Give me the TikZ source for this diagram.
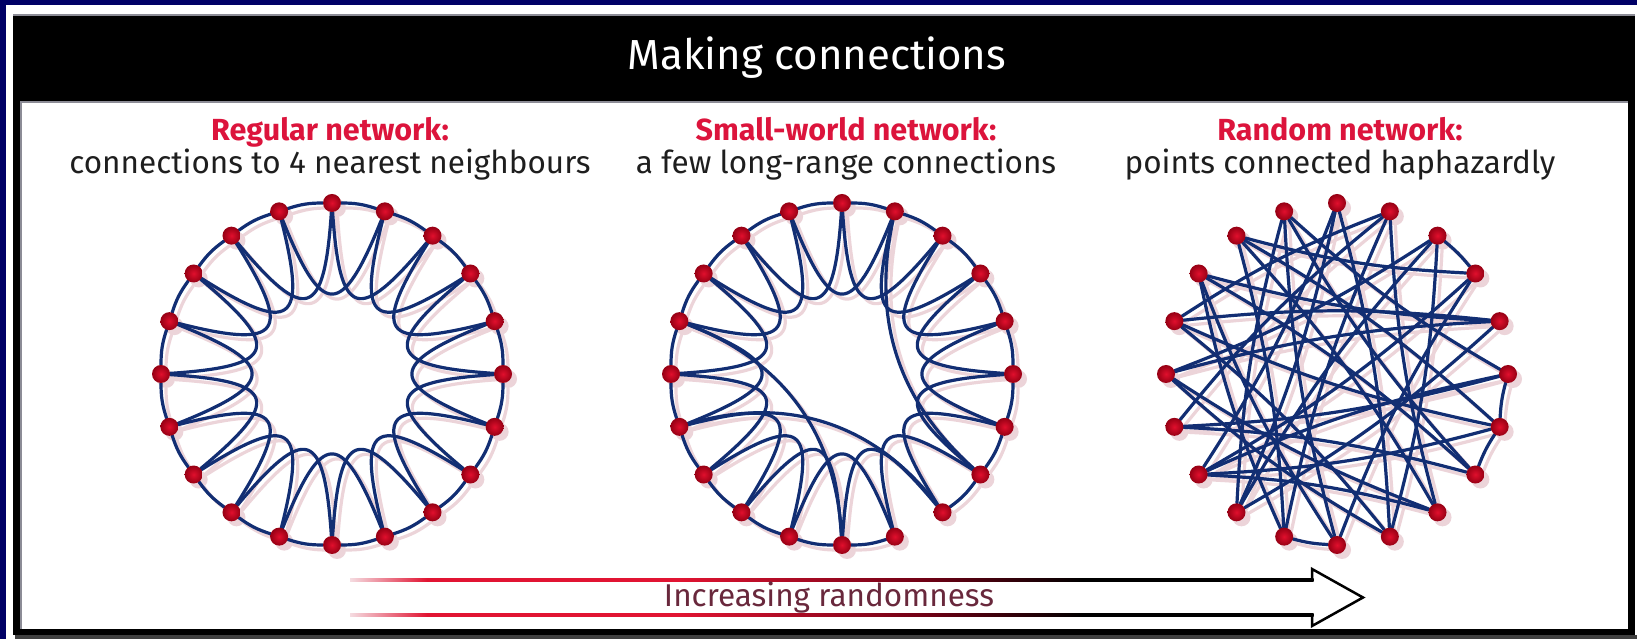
\documentclass[tikz,border=0pt]{standalone}
\usepackage{fontspec}
\setmainfont{Fira Sans}
\usetikzlibrary{calc}
\definecolor{navybg}{RGB}{0,0,102}
\definecolor{edgeblue}{RGB}{18,46,115}
\definecolor{dotred}{RGB}{225,15,45}
\definecolor{dotdark}{RGB}{150,0,20}
\definecolor{shadowpink}{RGB}{236,212,217}
\definecolor{titlered}{RGB}{220,20,60}
\definecolor{subtext}{RGB}{30,30,30}
\definecolor{arrowpale}{RGB}{245,220,225}
\definecolor{arrowred}{RGB}{225,20,50}
\definecolor{arrowmaroon}{RGB}{110,0,20}
\definecolor{arrowtext}{RGB}{105,40,60}
\definecolor{rulegray}{RGB}{140,140,150}
\pgfdeclarelayer{framel}
\pgfdeclarelayer{shadowl}
\pgfdeclarelayer{edgel}
\pgfsetlayers{framel,shadowl,edgel,main}
\pgfdeclarehorizontalshading{arrowgrad}{100bp}{color(0bp)=(arrowpale); color(25bp)=(arrowpale); color(29bp)=(arrowred); color(42bp)=(arrowred); color(55bp)=(arrowmaroon); color(63bp)=(black); color(100bp)=(black)}
\newcommand\edgepair[3]{%
  \begin{pgfonlayer}{shadowl}\draw[shadowline] (#1) #3 (#2);\end{pgfonlayer}%
  \begin{pgfonlayer}{edgel}\draw[netedge] (#1) #3 (#2);\end{pgfonlayer}}
\tikzset{
  netedge/.style={draw=edgeblue, line width=3.2pt, line cap=round},
  shadowline/.style={draw=shadowpink, line width=3.2pt, line cap=round, transform canvas={shift={(5pt,-5pt)}}},
  dot/.style={circle, inner sep=0pt, minimum size=18pt, inner color=dotred, outer color=dotdark},
  headtext/.style={anchor=base, text=white, font=\fontsize{42}{50}\selectfont},
  kindtext/.style={anchor=base, text=titlered, font=\bfseries\fontsize{30.5}{36}\selectfont},
  desctext/.style={anchor=base, text=subtext, font=\fontsize{31.5}{38}\selectfont},
  arrowlabel/.style={anchor=base, text=arrowtext, font=\fontsize{31.5}{38}\selectfont}
}
\begin{document}
\begin{tikzpicture}[x=1pt,y=1pt]
\useasboundingbox (0,0) rectangle (1637,639);
% frame
\begin{pgfonlayer}{framel}
\fill[navybg] (0,0) rectangle (1637,639);
\fill[white] (6,0) rectangle (1637,634);
\fill[black!75] (15,0) rectangle (1637,4);
\fill[black] (13,4) rectangle (1635,625);
\fill[rulegray] (13,623) rectangle (1635,625);
\fill[white] (20,10) rectangle (1628,538);
\fill[rulegray] (20,536) rectangle (1628,538);
\fill[rulegray] (20,10) rectangle (22,538);
\end{pgfonlayer}
% texts
\node[headtext] (head) at (817,569) {Making connections};
\node[kindtext] (k1) at (330,498) {Regular network:};
\node[desctext] (d1) at (330,465) {connections to 4 nearest neighbours};
\node[kindtext] (k2) at (846,498) {Small-world network:};
\node[desctext] (d2) at (846,465) {a few long-range connections};
\node[kindtext] (k3) at (1340,498) {Random network:};
\node[desctext] (d3) at (1340,465) {points connected haphazardly};
% nodes
\foreach \p/\cx in {L/332,M/842,R/1337}{
  \foreach \k in {0,...,19}{
    \node[dot] (\p\k) at ($(\cx,265)+({90-18*\k}:171)$) {};
    \begin{pgfonlayer}{shadowl}
      \fill[shadowpink] ($(\p\k)+(5,-5)$) circle (9);
    \end{pgfonlayer}
  }
}
% regular network
\foreach \k in {0,...,19}{
  \pgfmathtruncatemacro\ka{mod(\k+1,20)}
  \pgfmathtruncatemacro\kb{mod(\k+2,20)}
  \pgfmathsetmacro\ca{90-18*(\k+1)+10}
  \pgfmathsetmacro\cb{90-18*(\k+1)-10}
  \edgepair{L\k}{L\ka}{to[bend left=9]}
  \edgepair{L\k}{L\kb}{.. controls ($(332,265)+(\ca:56)$) and ($(332,265)+(\cb:56)$) ..}
}
% small-world network
\foreach \k in {0,...,19}{
  \pgfmathtruncatemacro\ka{mod(\k+1,20)}
  \pgfmathtruncatemacro\kb{mod(\k+2,20)}
  \pgfmathsetmacro\ca{90-18*(\k+1)+10}
  \pgfmathsetmacro\cb{90-18*(\k+1)-10}
  \ifnum\k=8 \else \edgepair{M\k}{M\ka}{to[bend left=9]}\fi
  \edgepair{M\k}{M\kb}{.. controls ($(842,265)+(\ca:56)$) and ($(842,265)+(\cb:56)$) ..}
}
\edgepair{M16}{M10}{to[bend left=33]}
\edgepair{M14}{M8}{to[bend left=35]}
\edgepair{M1}{M7}{to[bend right=30]}
% random network
\foreach \a/\b in {2/3,10/11,0/9,3/13,6/16,12/2,17/7,0/12,2/9,4/12,6/13,8/15,10/17,12/19,14/1,16/4,18/6,16/1,11/17,5/19}{
  \edgepair{R\a}{R\b}{to[bend left=6]}
}
\foreach \a/\b in {5/6,6/7,1/11,4/15,8/18,14/5,19/10,1/8,3/10,5/13,7/14,9/16,11/18,13/0,15/2,17/4,19/7,15/9,18/3,8/13}{
  \edgepair{R\a}{R\b}{to[bend right=6]}
}
% arrow
\shade[shading=arrowgrad] (350,57.5) rectangle (1313.5,60.5);
\shade[shading=arrowgrad] (350,22.5) rectangle (1313.5,25.5);
\draw[black, line width=2.5pt, line join=miter] (1312,59) -- (1312,70) -- (1363,41.5) -- (1312,13) -- (1312,24);
\node[arrowlabel] (inc) at (829,32) {Increasing randomness};
\end{tikzpicture}
\end{document}
